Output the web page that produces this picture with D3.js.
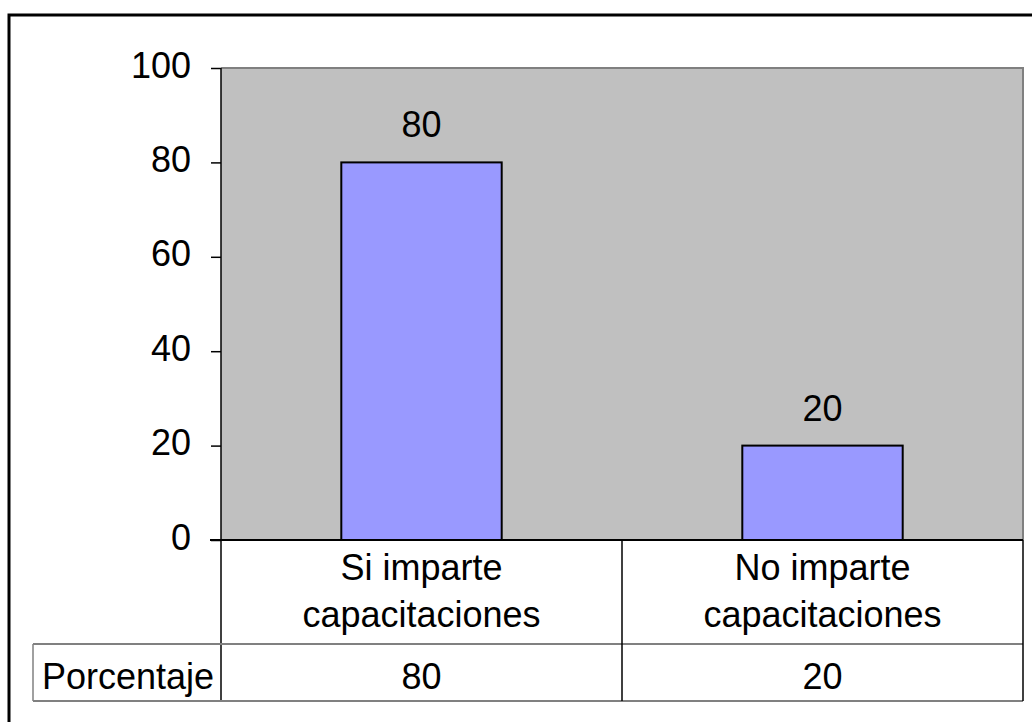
<!DOCTYPE html>
<html>
<head>
<meta charset="utf-8">
<script src="https://cdn.jsdelivr.net/npm/d3@7"></script>
<style>
  body { margin: 0; background: #fff; }
  text { font-family: "Liberation Sans", Arial, sans-serif; fill: #000; }
</style>
</head>
<body>
<div id="chart"></div>
<script>
const categories = ["Si imparte capacitaciones", "No imparte capacitaciones"];
const values = [80, 20];
const seriesName = "Porcentaje";
const yTicks = [0, 20, 40, 60, 80, 100];

const W = 1032, H = 722;
const plot = { left: 221, right: 1023, top: 68, bottom: 540 };
const table = { left: 33, row1: 644, row2: 701 };
const fs = 36;

const svg = d3.select("#chart").append("svg")
  .attr("width", W).attr("height", H);

// outer chart border (runs off the right/bottom edge like the original)
svg.append("rect")
  .attr("x", 9).attr("y", 15)
  .attr("width", W + 20).attr("height", H + 20)
  .attr("fill", "#fff").attr("stroke", "#000").attr("stroke-width", 3);

const x = d3.scaleBand()
  .domain(categories)
  .range([plot.left, plot.right])
  .padding(0);

const y = d3.scaleLinear()
  .domain([0, 100])
  .range([plot.bottom, plot.top]);

// plot background
svg.append("rect")
  .attr("x", plot.left).attr("y", plot.top)
  .attr("width", plot.right - plot.left).attr("height", plot.bottom - plot.top)
  .attr("fill", "#c0c0c0");
svg.append("path")
  .attr("d", `M${plot.left},${plot.top}H${plot.right}V${plot.bottom}`)
  .attr("fill", "none").attr("stroke", "#808080").attr("stroke-width", 2);

// bars
const bw = x.bandwidth() * 0.4;
svg.selectAll(".bar")
  .data(values)
  .enter().append("rect")
  .attr("class", "bar")
  .attr("x", (d, i) => x(categories[i]) + (x.bandwidth() - bw) / 2)
  .attr("y", d => y(d))
  .attr("width", bw)
  .attr("height", d => y(0) - y(d))
  .attr("fill", "#9999ff")
  .attr("stroke", "#000")
  .attr("stroke-width", 2);

// data labels
svg.selectAll(".lbl")
  .data(values)
  .enter().append("text")
  .attr("class", "lbl")
  .attr("x", (d, i) => x(categories[i]) + x.bandwidth() / 2)
  .attr("y", d => y(d) - 25)
  .attr("text-anchor", "middle")
  .style("font-size", fs + "px")
  .text(d => d);

// y axis
const yAxis = d3.axisLeft(y).tickValues(yTicks).tickSize(10).tickPadding(20);
const ga = svg.append("g")
  .attr("transform", `translate(${plot.left},0)`)
  .call(yAxis);
ga.select(".domain").remove();
ga.selectAll(".tick line").attr("stroke", "#000").attr("stroke-width", 1.5);
ga.selectAll(".tick text")
  .style("font-size", fs + "px")
  .style("font-family", "'Liberation Sans', Arial, sans-serif")
  .attr("fill", "#000")
  .attr("dy", "0.25em");

// data table lines
const grid = svg.append("g");
grid.append("line")
  .attr("x1", plot.left).attr("x2", plot.left)
  .attr("y1", plot.top).attr("y2", table.row2)
  .attr("stroke", "#000").attr("stroke-width", 1.5);
grid.append("line")
  .attr("x1", plot.left - 11).attr("x2", plot.right)
  .attr("y1", plot.bottom).attr("y2", plot.bottom)
  .attr("stroke", "#000").attr("stroke-width", 2);
[table.row1, table.row2].forEach(yy => {
  grid.append("line")
    .attr("x1", table.left).attr("x2", plot.right)
    .attr("y1", yy).attr("y2", yy)
    .attr("stroke", "#808080").attr("stroke-width", 2);
});
grid.append("line")
  .attr("x1", table.left).attr("x2", table.left)
  .attr("y1", table.row1).attr("y2", table.row2)
  .attr("stroke", "#808080").attr("stroke-width", 1.5);
categories.forEach((c, i) => {
  const xx = x(c) + x.bandwidth();
  grid.append("line")
    .attr("x1", xx).attr("x2", xx)
    .attr("y1", plot.bottom).attr("y2", table.row2)
    .attr("stroke", "#000").attr("stroke-width", 1.5);
});

// category labels (two lines)
categories.forEach(c => {
  const k = c.lastIndexOf(" ");
  const lines = [c.slice(0, k), c.slice(k + 1)];
  const t = svg.append("text")
    .attr("text-anchor", "middle")
    .style("font-size", fs + "px");
  lines.forEach((ln, j) => {
    t.append("tspan")
      .attr("x", x(c) + x.bandwidth() / 2)
      .attr("y", 580 + j * 47)
      .text(ln);
  });
});

// value row
svg.append("text")
  .attr("x", (table.left + plot.left) / 2 + 1)
  .attr("y", 689)
  .attr("text-anchor", "middle")
  .style("font-size", fs + "px")
  .text(seriesName);
svg.selectAll(".val")
  .data(values)
  .enter().append("text")
  .attr("class", "val")
  .attr("x", (d, i) => x(categories[i]) + x.bandwidth() / 2)
  .attr("y", 689)
  .attr("text-anchor", "middle")
  .style("font-size", fs + "px")
  .text(d => d);
</script>
</body>
</html>
